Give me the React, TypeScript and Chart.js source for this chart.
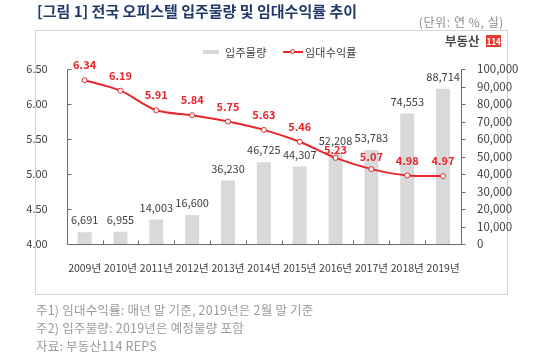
import React, { useEffect, useRef } from "react";
import { Chart, registerables } from "chart.js";

Chart.register(...registerables);

const years = ["2009년", "2010년", "2011년", "2012년", "2013년", "2014년", "2015년", "2016년", "2017년", "2018년", "2019년"];
const supplyUnits = [6691, 6955, 14003, 16600, 36230, 46725, 44307, 52208, 53783, 74553, 88714];
const rentalYield = [6.34, 6.19, 5.91, 5.84, 5.75, 5.63, 5.46, 5.23, 5.07, 4.98, 4.97];
const leftAxisRange = { min: 4.0, max: 6.5, step: 0.5 };
const rightAxisRange = { min: 0, max: 100000, step: 10000 };

const titleText = "[그림 1] 전국 오피스텔 입주물량 및 임대수익률 추이";
const unitText = "(단위: 연 %, 실)";
const legendBar = "입주물량";
const legendLine = "임대수익률";
const footnotes = ["주1) 임대수익률: 매년 말 기준, 2019년은 2월 말 기준", "주2) 입주물량: 2019년은 예정물량 포함", "자료: 부동산114 REPS"];

const FONT = "'Noto Sans CJK KR', 'Noto Sans', sans-serif";
const RED = "#e8262b";
const BAR = "#d9d9d9";
const AXIS = "#6b6b6b";
const TEXT = "#404040";

// label lift (px above point) adjustments for crowded points
const yieldLabelLift = (i: number) => (i === 7 ? 8 : i === 8 ? 12 : 15);

const overlayPlugin = {
  id: "overlay",
  afterDatasetsDraw(chart: any) {
    const { ctx, chartArea: a, scales } = chart;
    const x = scales.x, yL = scales.yL, yR = scales.yR;
    ctx.save();
    ctx.strokeStyle = AXIS;
    ctx.lineWidth = 1;
    const L = Math.round(a.left) + 0.5;
    const R = Math.round(a.right) + 0.5;
    const B = Math.round(a.bottom) + 0.5;
    const T = Math.round(a.top) + 0.5;
    ctx.beginPath();
    ctx.moveTo(L, T);
    ctx.lineTo(L, B);
    ctx.lineTo(R, B);
    ctx.lineTo(R, T);
    yL.ticks.forEach((t: any) => {
      const py = Math.round(yL.getPixelForValue(t.value)) + 0.5;
      ctx.moveTo(L, py);
      ctx.lineTo(L + 4, py);
    });
    yR.ticks.forEach((t: any) => {
      const py = Math.round(yR.getPixelForValue(t.value)) + 0.5;
      ctx.moveTo(R, py);
      ctx.lineTo(R + 4, py);
    });
    for (let i = 1; i < years.length; i++) {
      const px = Math.round((x.getPixelForValue(i - 1) + x.getPixelForValue(i)) / 2) + 0.5;
      ctx.moveTo(px, B);
      ctx.lineTo(px, B - 4);
    }
    ctx.stroke();

    // bar value labels
    ctx.textAlign = "center";
    ctx.textBaseline = "middle";
    ctx.font = `11px ${FONT}`;
    ctx.fillStyle = TEXT;
    const barMeta = chart.getDatasetMeta(0);
    barMeta.data.forEach((el: any, i: number) => {
      ctx.fillText(supplyUnits[i].toLocaleString("en-US"), el.x, el.y - 12);
    });
    // line value labels
    ctx.font = `bold 11px ${FONT}`;
    ctx.fillStyle = RED;
    const lineMeta = chart.getDatasetMeta(1);
    lineMeta.data.forEach((el: any, i: number) => {
      ctx.fillText(rentalYield[i].toFixed(2), el.x, el.y - yieldLabelLift(i));
    });
    ctx.restore();
  },
};

function ChartCanvas() {
  const ref = useRef<HTMLCanvasElement | null>(null);
  useEffect(() => {
    if (!ref.current) return;
    const chart = new Chart(ref.current, {
      type: "bar",
      data: {
        labels: years,
        datasets: [
          {
            type: "bar",
            label: legendBar,
            data: supplyUnits,
            backgroundColor: BAR,
            yAxisID: "yR",
            barPercentage: 0.39,
            categoryPercentage: 1,
            order: 2,
          },
          {
            type: "line",
            label: legendLine,
            data: rentalYield,
            borderColor: RED,
            borderWidth: 2,
            tension: 0.3,
            pointRadius: 2.5,
            pointBorderWidth: 1,
            pointBackgroundColor: "#ffffff",
            pointBorderColor: RED,
            yAxisID: "yL",
            order: 1,
          } as any,
        ],
      },
      options: {
        responsive: false,
        animation: false,
        devicePixelRatio: 1,
        layout: { padding: { top: 69, left: 0, right: 0, bottom: 0 } },
        plugins: { legend: { display: false }, tooltip: { enabled: false }, title: { display: false } },
        scales: {
          x: {
            grid: { display: false },
            border: { display: false },
            ticks: {
              color: TEXT,
              font: { family: FONT, size: 10.5 },
              padding: 10,
              maxRotation: 0,
              autoSkip: false,
            },
            afterFit: (s: any) => {
              s.height = 110;
            },
          },
          yL: {
            position: "left",
            min: leftAxisRange.min,
            max: leftAxisRange.max,
            grid: { display: false },
            border: { display: false },
            ticks: {
              stepSize: leftAxisRange.step,
              color: TEXT,
              font: { family: FONT, size: 11 },
              padding: 11,
              callback: (v: any) => Number(v).toFixed(2),
            },
            afterFit: (s: any) => {
              s.width = 66.7;
            },
          },
          yR: {
            position: "right",
            min: rightAxisRange.min,
            max: rightAxisRange.max,
            grid: { display: false },
            border: { display: false },
            ticks: {
              stepSize: rightAxisRange.step,
              color: TEXT,
              font: { family: FONT, size: 11.5 },
              padding: 8,
              callback: (v: any) => Number(v).toLocaleString("en-US"),
            },
            afterFit: (s: any) => {
              s.width = 89;
            },
          },
        },
      },
      plugins: [overlayPlugin],
    });
    return () => chart.destroy();
  }, []);
  return <canvas ref={ref} width={550} height={354} style={{ position: "absolute", left: 0, top: 0, width: 550, height: 354 }} />;
}

export default function App() {
  const abs = (o: React.CSSProperties): React.CSSProperties => ({ position: "absolute", whiteSpace: "nowrap", ...o });
  return (
    <div style={{ position: "fixed", left: 0, top: 0, width: 550, height: 354, background: "#fff", overflow: "hidden", fontFamily: FONT }}>
      <div style={abs({ left: 35, top: 30, width: 473, height: 265, border: "1px solid #d4d4d4", boxSizing: "border-box" })} />
      <ChartCanvas />
      <div style={abs({ left: 37, top: 0, fontSize: 15, fontWeight: 700, lineHeight: "21px", color: "#1f3a6b" })}>{titleText}</div>
      <div style={abs({ right: 46, top: 13, fontSize: 12, letterSpacing: 0.6, lineHeight: "17px", color: "#8a8a8a" })}>{unitText}</div>
      {/* logo */}
      <div style={abs({ left: 445, top: 32, fontSize: 12.5, fontWeight: 700, lineHeight: "17px", color: "#4a4a4a" })}>부동산</div>
      <div style={abs({ left: 486, top: 35, width: 15, height: 12, background: "#e63b2e", color: "#fff", fontSize: 8.5, fontWeight: 700, letterSpacing: -0.4, lineHeight: "12px", textAlign: "center" })}>114</div>
      {/* legend */}
      <div style={abs({ left: 203, top: 50, width: 16, height: 4, background: BAR })} />
      <div style={abs({ left: 225, top: 44, fontSize: 11, letterSpacing: 0.3, lineHeight: "16px", color: TEXT })}>{legendBar}</div>
      <div style={abs({ left: 283, top: 51, width: 20, height: 2, background: RED })} />
      <div style={abs({ left: 290, top: 49, width: 5, height: 5, borderRadius: "50%", background: "#fff", border: `1px solid ${RED}`, boxSizing: "border-box" })} />
      <div style={abs({ left: 305, top: 44, fontSize: 11, letterSpacing: 0.2, lineHeight: "16px", color: TEXT })}>{legendLine}</div>
      {/* footnotes */}
      {footnotes.map((f, i) => (
        <div key={i} style={abs({ left: 36, top: 301 + i * 18, fontSize: 12.5, letterSpacing: 0.2, lineHeight: "18px", color: "#9a9a9a" })}>{f}</div>
      ))}
    </div>
  );
}
